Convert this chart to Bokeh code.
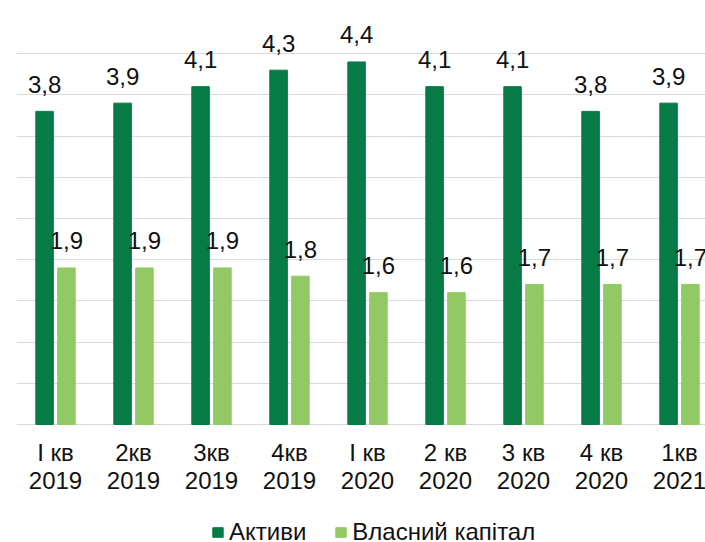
from bokeh.plotting import figure
from bokeh.models import (Range1d, FixedTicker, Legend, LegendItem,
                          ColumnDataSource, Grid)
from bokeh.core.properties import value
from bokeh.embed import file_html
from bokeh.resources import INLINE

quarters = ["I кв", "2кв", "3кв", "4кв", "I кв", "2 кв", "3 кв", "4 кв", "1кв"]
years = ["2019", "2019", "2019", "2019", "2020", "2020", "2020", "2020", "2021"]
assets = [3.8, 3.9, 4.1, 4.3, 4.4, 4.1, 4.1, 3.8, 3.9]
equity = [1.9, 1.9, 1.9, 1.8, 1.6, 1.6, 1.7, 1.7, 1.7]
grid_ticks = [0, 0.5, 1, 1.5, 2, 2.5, 3, 3.5, 4, 4.5, 5]

FONT = "Liberation Sans"
DARK = "#077b46"
LIGHT = "#92c965"
GRID = "#d9d9d9"
TXT = "#111111"
FS = "24px"

centers = [i + 0.5 for i in range(len(quarters))]
src = ColumnDataSource(dict(
    xd=[c - 0.14 for c in centers],
    xl=[c + 0.14 for c in centers],
    xc=centers,
    zero=[0] * len(centers),
    q=quarters,
    yr=years,
    assets=assets,
    equity=equity,
    la=[f"{v:.1f}".replace(".", ",") for v in assets],
    le=[f"{v:.1f}".replace(".", ",") for v in equity],
))

PX = 82.4  # pixels per unit
p = figure(width=705, height=542, x_range=Range1d(0, 689 / 78),
           y_range=Range1d(5 - 530 / PX, 5),
           output_backend="svg", toolbar_location=None,
           x_axis_location=None, y_axis_location=None,
           min_border_left=16, min_border_right=0, min_border_top=12, min_border_bottom=0)
p.outline_line_color = None
p.background_fill_color = "white"
for r in list(p.center):
    r.visible = False

g = Grid(dimension=1, ticker=FixedTicker(ticks=grid_ticks), grid_line_color=GRID, grid_line_width=1)
p.add_layout(g)

r1 = p.vbar(x="xd", top="assets", width=0.225, source=src, color=DARK)
r2 = p.vbar(x="xl", top="equity", width=0.225, source=src, color=LIGHT)

TEXT_KW = dict(source=src, text_align="center", text_baseline="alphabetic",
               text_font=value(FONT), text_font_size=FS, text_color=TXT)
p.text(x="xd", y="assets", text="la", y_offset=-27, **TEXT_KW)
p.text(x="xl", y="equity", text="le", y_offset=-27, **TEXT_KW)
# category labels (two lines) under the baseline
p.text(x="xc", y="zero", text="q", y_offset=28, **TEXT_KW)
p.text(x="xc", y="zero", text="yr", y_offset=56, **TEXT_KW)

legend = Legend(items=[LegendItem(label="Активи", renderers=[r1]),
                       LegendItem(label="Власний капітал", renderers=[r2])],
                orientation="horizontal", location=(195, -4),
                glyph_width=13, glyph_height=12, label_standoff=5, spacing=28,
                label_text_font=FONT, label_text_font_size=FS, label_text_color=TXT,
                border_line_color=None, background_fill_alpha=0, padding=0, margin=0)
p.add_layout(legend, "center")

open("out.html", "w").write(file_html(p, INLINE))
